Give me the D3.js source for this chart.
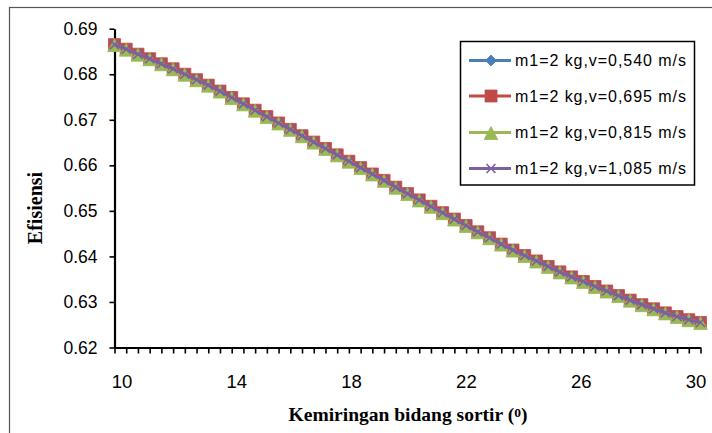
<!DOCTYPE html>
<html>
<head>
<meta charset="utf-8">
<script src="https://cdn.jsdelivr.net/npm/d3@7"></script>
<style>
    body { margin: 0; background: #fff; }
    svg { display: block; }
    .axis text { font-family: "Liberation Sans", Arial, sans-serif; fill: #000; }
    .title { font-family: "Liberation Serif", "Times New Roman", serif; font-weight: bold; fill: #000; }
    .legend text { font-family: "Liberation Sans", Arial, sans-serif; font-size: 16px; fill: #000; }
</style>
</head>
<body>
<div id="vis"></div>
<script>
// kemiringan bidang sortir (derajat), langkah 0.4
var sudut = [10, 10.4, 10.8, 11.2, 11.6, 12, 12.4, 12.8, 13.2, 13.6,
             14, 14.4, 14.8, 15.2, 15.6, 16, 16.4, 16.8, 17.2, 17.6,
             18, 18.4, 18.8, 19.2, 19.6, 20, 20.4, 20.8, 21.2, 21.6,
             22, 22.4, 22.8, 23.2, 23.6, 24, 24.4, 24.8, 25.2, 25.6,
             26, 26.4, 26.8, 27.2, 27.6, 28, 28.4, 28.8, 29.2, 29.6, 30];

var efV0540 = [0.6865, 0.6855, 0.6844, 0.6834, 0.6823, 0.6812, 0.6800, 0.6788, 0.6776, 0.6763,
               0.6749, 0.6735, 0.6721, 0.6707, 0.6693, 0.6679, 0.6665, 0.6651, 0.6637, 0.6623,
               0.6609, 0.6595, 0.6581, 0.6567, 0.6552, 0.6538, 0.6524, 0.6510, 0.6496, 0.6482,
               0.6468, 0.6454, 0.6441, 0.6427, 0.6414, 0.6402, 0.6390, 0.6378, 0.6366, 0.6355,
               0.6345, 0.6334, 0.6324, 0.6314, 0.6304, 0.6294, 0.6285, 0.6276, 0.6268, 0.6261, 0.6255];
var efV0695 = [0.6865, 0.6855, 0.6844, 0.6834, 0.6823, 0.6812, 0.6800, 0.6788, 0.6776, 0.6763,
               0.6749, 0.6735, 0.6721, 0.6707, 0.6693, 0.6679, 0.6665, 0.6651, 0.6637, 0.6623,
               0.6609, 0.6595, 0.6581, 0.6567, 0.6552, 0.6538, 0.6524, 0.6510, 0.6496, 0.6482,
               0.6468, 0.6454, 0.6441, 0.6427, 0.6414, 0.6402, 0.6390, 0.6378, 0.6366, 0.6355,
               0.6345, 0.6334, 0.6324, 0.6314, 0.6304, 0.6294, 0.6285, 0.6276, 0.6268, 0.6261, 0.6255];
var efV0815 = [0.6865, 0.6855, 0.6844, 0.6834, 0.6823, 0.6812, 0.6800, 0.6788, 0.6776, 0.6763,
               0.6749, 0.6735, 0.6721, 0.6707, 0.6693, 0.6679, 0.6665, 0.6651, 0.6637, 0.6623,
               0.6609, 0.6595, 0.6581, 0.6567, 0.6552, 0.6538, 0.6524, 0.6510, 0.6496, 0.6482,
               0.6468, 0.6454, 0.6441, 0.6427, 0.6414, 0.6402, 0.6390, 0.6378, 0.6366, 0.6355,
               0.6345, 0.6334, 0.6324, 0.6314, 0.6304, 0.6294, 0.6285, 0.6276, 0.6268, 0.6261, 0.6255];
var efV1085 = [0.6865, 0.6855, 0.6844, 0.6834, 0.6823, 0.6812, 0.6800, 0.6788, 0.6776, 0.6763,
               0.6749, 0.6735, 0.6721, 0.6707, 0.6693, 0.6679, 0.6665, 0.6651, 0.6637, 0.6623,
               0.6609, 0.6595, 0.6581, 0.6567, 0.6552, 0.6538, 0.6524, 0.6510, 0.6496, 0.6482,
               0.6468, 0.6454, 0.6441, 0.6427, 0.6414, 0.6402, 0.6390, 0.6378, 0.6366, 0.6355,
               0.6345, 0.6334, 0.6324, 0.6314, 0.6304, 0.6294, 0.6285, 0.6276, 0.6268, 0.6261, 0.6255];

var seriesNames = ['m1=2 kg,v=0,540 m/s', 'm1=2 kg,v=0,695 m/s', 'm1=2 kg,v=0,815 m/s', 'm1=2 kg,v=1,085 m/s'];
var xTickLabels = [10, 14, 18, 22, 26, 30];
var yTickValues = [0.62, 0.63, 0.64, 0.65, 0.66, 0.67, 0.68, 0.69];

var width = 712, height = 433;
var plot = { left: 114.5, right: 700.5, top: 28.7, bottom: 347.5 };

var svg = d3.select('#vis')
            .append('svg')
            .attr('width', width)
            .attr('height', height);

// outer chart frame (runs off the right and bottom edges)
svg.append('rect')
   .attr('x', 9.5).attr('y', 7.5)
   .attr('width', 720).attr('height', 440)
   .attr('fill', 'none')
   .attr('stroke', '#555')
   .attr('stroke-width', 1.2);

var xScale = d3.scaleLinear().domain([10, 30]).range([plot.left, plot.right]);
var yScale = d3.scaleLinear().domain([0.62, 0.69]).range([plot.bottom, plot.top]);
// category labels sit a bit inside the tick positions in the original
var xLabelScale = d3.scaleLinear().domain([10, 30]).range([122, 696]);

var yAxis = d3.axisLeft(yScale)
              .tickValues(yTickValues)
              .tickFormat(d3.format('.2f'))
              .tickSizeInner(5)
              .tickSizeOuter(0)
              .tickPadding(12);

var xAxis = d3.axisBottom(xScale)
              .tickValues(sudut)
              .tickFormat('')
              .tickSizeInner(6)
              .tickSizeOuter(0);

var gy = svg.append('g')
            .attr('class', 'axis')
            .attr('transform', `translate(${plot.left},0)`)
            .call(yAxis);
gy.selectAll('text').style('font-size', '17.5px');

var gx = svg.append('g')
            .attr('class', 'axis')
            .attr('transform', `translate(0,${plot.bottom})`)
            .call(xAxis);

[gx, gy].forEach(function(g) {
    g.select('.domain').attr('stroke', '#000').attr('stroke-width', 2.2);
    g.selectAll('.tick line').attr('stroke', '#000').attr('stroke-width', 1.6);
});

svg.append('g')
   .attr('class', 'axis')
   .selectAll('text')
   .data(xTickLabels)
   .enter()
   .append('text')
   .attr('x', (d) => xLabelScale(d))
   .attr('y', 387.5)
   .attr('text-anchor', 'middle')
   .style('font-size', '18.5px')
   .text((d) => d);

// axis titles
svg.append('text')
   .attr('class', 'title')
   .attr('transform', 'translate(41.5,208) rotate(-90)')
   .attr('text-anchor', 'middle')
   .style('font-size', '20px')
   .text('Efisiensi');

var xTitle = svg.append('text')
                .attr('class', 'title')
                .attr('x', 408)
                .attr('y', 421)
                .attr('text-anchor', 'middle')
                .style('font-size', '19.5px');
xTitle.append('tspan').text('Kemiringan bidang sortir (');
xTitle.append('tspan').attr('dy', -4).style('font-size', '13.5px').text('0');
xTitle.append('tspan').attr('dy', 4).text(')');

// marker shapes
var markerPath = {
    diamond: (s) => `M0,${-s}L${s},0L0,${s}L${-s},0Z`,
    square: (s) => `M${-s},${-s}H${s}V${s}H${-s}Z`,
    triangle: (s) => `M0,${-s}L${s + 0.8},${s + 1}H${-s - 0.8}Z`,
    cross: (s) => `M${-s},${-s}L${s},${s}M${s},${-s}L${-s},${s}`
};

var series = [
    { name: seriesNames[0], values: efV0540, color: '#4A7EBB', marker: 'diamond', size: 5.5 },
    { name: seriesNames[1], values: efV0695, color: '#BE4B48', marker: 'square', size: 6 },
    { name: seriesNames[2], values: efV0815, color: '#98B954', marker: 'triangle', size: 6 },
    { name: seriesNames[3], values: efV1085, color: '#7D60A0', marker: 'cross', size: 4.5 }
];

var line = d3.line()
             .x((d) => xScale(d[0]))
             .y((d) => yScale(d[1]));

var gSeries = svg.append('g');

series.forEach(function(s) {
    var pts = sudut.map((x, i) => [x, s.values[i]]);
    var gs = gSeries.append('g');
    gs.append('path')
      .attr('d', line(pts))
      .attr('fill', 'none')
      .attr('stroke', s.color)
      .attr('stroke-width', 3)
      .attr('stroke-linejoin', 'round');
    gs.selectAll('path.mk')
      .data(pts)
      .enter()
      .append('path')
      .attr('class', 'mk')
      .attr('transform', (d) => `translate(${xScale(d[0])},${yScale(d[1])})`)
      .attr('d', markerPath[s.marker](s.size))
      .attr('fill', s.marker === 'cross' ? 'none' : s.color)
      .attr('stroke', s.color)
      .attr('stroke-width', s.marker === 'cross' ? 1.6 : 0.8);
});

// legend
var legend = svg.append('g').attr('class', 'legend');
legend.append('rect')
      .attr('x', 460.5).attr('y', 41.5)
      .attr('width', 234).attr('height', 143.5)
      .attr('fill', '#fff')
      .attr('stroke', '#000')
      .attr('stroke-width', 1.5);

var rowY = [60.5, 96, 132.5, 168.5];
series.forEach(function(s, i) {
    var row = legend.append('g').attr('transform', `translate(0,${rowY[i]})`);
    row.append('line')
       .attr('x1', 469).attr('x2', 511)
       .attr('y1', 0).attr('y2', 0)
       .attr('stroke', s.color)
       .attr('stroke-width', 3);
    row.append('path')
       .attr('transform', 'translate(491,0)')
       .attr('d', markerPath[s.marker](s.size))
       .attr('fill', s.marker === 'cross' ? 'none' : s.color)
       .attr('stroke', s.color)
       .attr('stroke-width', s.marker === 'cross' ? 1.6 : 0.8);
    row.append('text')
       .attr('x', 515)
       .attr('y', 5.8)
       .attr('textLength', 171)
       .attr('lengthAdjust', 'spacing')
       .text(s.name);
});
</script>
</body>
</html>
